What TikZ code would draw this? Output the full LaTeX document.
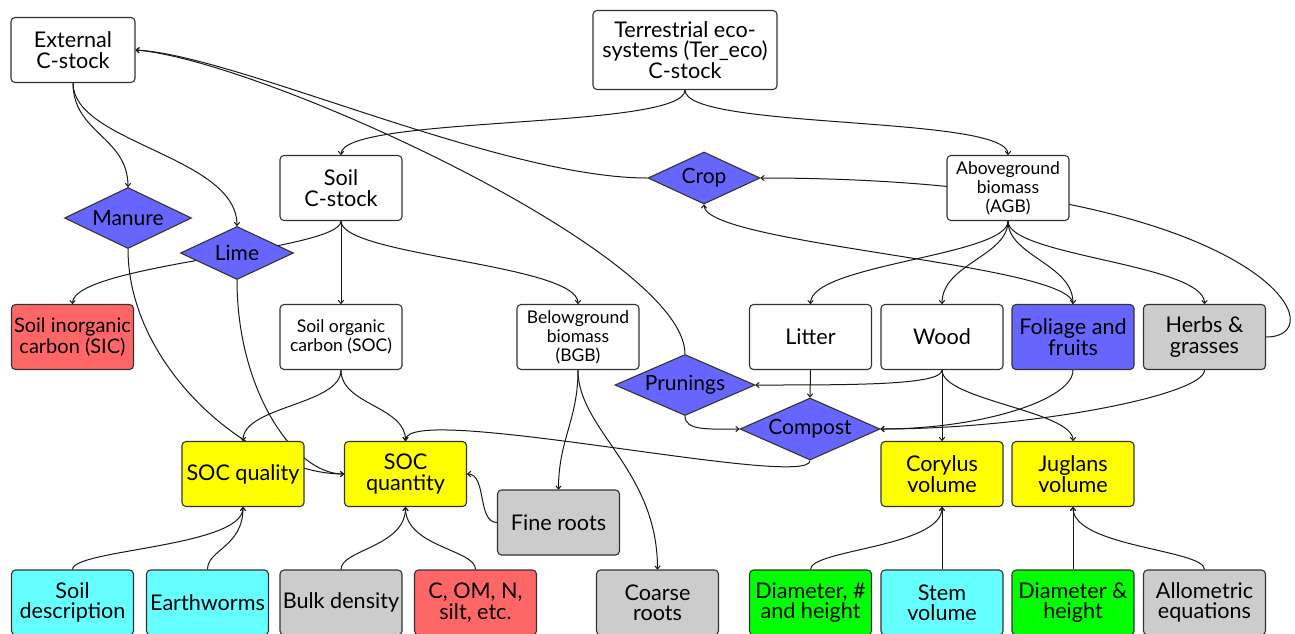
\documentclass[tikz,border=0pt]{standalone}
\usepackage{fontspec}
\setmainfont{Lato}
\usetikzlibrary{shapes.geometric,arrows.meta}
\pgfdeclarelayer{bg}
\pgfsetlayers{bg,main}
\definecolor{dblue}{RGB}{102,102,255}
\definecolor{dred}{RGB}{255,102,102}
\definecolor{dyel}{RGB}{255,255,0}
\definecolor{dgray}{RGB}{204,204,204}
\definecolor{dcyan}{RGB}{102,255,255}
\definecolor{dgreen}{RGB}{0,255,0}
\tikzset{
  box/.style={draw=black!80, line width=1.1pt, rounded corners=4pt, fill=white,
    minimum width=122pt, minimum height=65pt, align=center, inner sep=1pt,
    font=\fontsize{21.6}{20.5}\selectfont},
  sbox/.style={box, font=\fontsize{17.5}{19}\selectfont},
  dia/.style={diamond, draw=black!80, line width=1.1pt, fill=dblue, inner sep=0pt,
    aspect=2.2, font=\fontsize{21}{20}\selectfont},
  edge/.style={draw=black!90, line width=1pt, -{To[length=4pt,width=6pt]}},
}
\begin{document}
\begin{tikzpicture}[x=1pt,y=1pt]
\useasboundingbox (0,0) rectangle (1295,-633);
% row 1
\node[box, minimum width=124pt] (ext) at (73,-50) {External\\C-stock};
\node[box, minimum width=184pt, minimum height=79pt] (ter) at (685,-50) {Terrestrial eco-\\systems (Ter\_eco)\\C-stock};
% row 2
\node[box] (soilc) at (341,-188) {Soil\\C-stock};
\node[sbox] (agb) at (1008,-188) {Aboveground\\biomass\\(AGB)};
\node[dia, minimum width=112pt, minimum height=52pt] (crop) at (704,-178) {Crop};
\node[dia, minimum width=127pt, minimum height=61pt] (manure) at (128,-218) {Manure};
\node[dia, minimum width=113pt, minimum height=53pt] (lime) at (237,-253) {Lime};
% row 3
\node[box, fill=dred, font=\fontsize{20}{20.5}\selectfont] (sic) at (72.5,-337) {Soil inorganic\\carbon (SIC)};
\node[sbox] (soc) at (341,-337) {Soil organic\\carbon (SOC)};
\node[sbox] (bgb) at (578,-337) {Belowground\\biomass\\(BGB)};
\node[box] (litter) at (810.5,-337) {Litter};
\node[box] (wood) at (942,-337) {Wood};
\node[box, fill=dblue] (fol) at (1073,-337) {Foliage and\\fruits};
\node[box, fill=dgray] (herbs) at (1204.5,-337) {Herbs \&\\grasses};
\node[dia, minimum width=140pt, minimum height=61pt] (prun) at (685,-385) {Prunings};
\node[dia, minimum width=140pt, minimum height=62pt] (comp) at (810,-429) {Compost};
% row 4
\node[box, fill=dyel] (socql) at (243,-474) {SOC quality};
\node[box, fill=dyel] (socqn) at (405.5,-474) {SOC\\quantity};
\node[box, fill=dyel] (cory) at (942,-474) {Corylus\\volume};
\node[box, fill=dyel] (jug) at (1073,-474) {Juglans\\volume};
\node[box, fill=dgray] (fine) at (558.5,-522.5) {Fine roots};
% row 5
\node[box, fill=dcyan] (sdesc) at (72.5,-602.5) {Soil\\description};
\node[box, fill=dcyan] (earth) at (207.5,-602.5) {Earthworms};
\node[box, fill=dgray] (bulk) at (341,-602.5) {Bulk density};
\node[box, fill=dred] (comn) at (475.5,-602.5) {C, OM, N,\\silt, etc.};
\node[box, fill=dgray] (coarse) at (657.5,-602.5) {Coarse\\roots};
\node[box, fill=dgreen] (dnh) at (810.5,-602.5) {Diameter, \#\\and height};
\node[box, fill=dcyan] (stem) at (942,-602.5) {Stem\\volume};
\node[box, fill=dgreen] (dh) at (1073,-602.5) {Diameter \&\\height};
\node[box, fill=dgray] (allo) at (1204.5,-602.5) {Allometric\\equations};

\begin{pgfonlayer}{bg}
\fill[white] (0,0) rectangle (1295,-633);
\draw[edge] (ter.south) to[out=-90,in=90,out distance=40,in distance=40] (soilc.north);
\draw[edge] (ter.south) to[out=-90,in=90,out distance=40,in distance=40] (agb.north);
\draw[edge] (herbs.east) .. controls +(75,0) and +(500,0) .. (crop.east);
\draw[edge] (crop.west) .. controls +(-148,0) and +(100,-5) .. (ext.east);
\draw[edge] (prun.north) .. controls +(0,100) and +(125,-10) .. (ext.east);
\draw[edge] (ext.south) to[out=-90,in=90,out distance=50,in distance=50] (manure.north);
\draw[edge] (ext.south) to[out=-90,in=90,out distance=60,in distance=70] (lime.north);
\draw[edge] (manure.south) to[out=-90,in=180,out distance=120,in distance=90] (socqn.west);
\draw[edge] (lime.south) to[out=-90,in=180,out distance=110,in distance=50] (socqn.west);
\draw[edge] (soilc.south) to[out=-90,in=90,out distance=30,in distance=40] (sic.north);
\draw[edge] (soilc.south) -- (soc.north);
\draw[edge] (soilc.south) to[out=-90,in=90,out distance=35,in distance=40] (bgb.north);
\draw[edge] (soc.south) to[out=-90,in=90,out distance=35,in distance=35] (socql.north);
\draw[edge] (soc.south) to[out=-90,in=90,out distance=35,in distance=35] (socqn.north);
\draw[edge] (bgb.south) to[out=-90,in=90,out distance=50,in distance=50] (fine.north);
\draw[edge] (bgb.south) to[out=-90,in=90,out distance=60,in distance=100] (coarse.north);
\draw[edge] (fine.west) to[out=180,in=0,out distance=20,in distance=20] (socqn.east);
\draw[edge] (comp.south) .. controls +(0,-30) and +(0,40) .. (socqn.north);
\draw[edge] (litter.south) -- (comp.north);
\draw[edge] (wood.south) to[out=-90,in=0,out distance=15,in distance=100] (prun.east);
\draw[edge] (prun.south) to[out=-90,in=180,out distance=15,in distance=30] (comp.west);
\draw[edge] (fol.south) to[out=-90,in=0,out distance=30,in distance=100] (comp.east);
\draw[edge] (herbs.south) to[out=-90,in=0,out distance=25,in distance=150] (comp.east);
\draw[edge] (wood.south) -- (cory.north);
\draw[edge] (wood.south) to[out=-90,in=90,out distance=30,in distance=30] (jug.north);
\draw[edge] (agb.south) to[out=-90,in=90,out distance=35,in distance=40] (litter.north);
\draw[edge] (agb.south) to[out=-90,in=90,out distance=35,in distance=40] (wood.north);
\draw[edge] (agb.south) to[out=-90,in=90,out distance=35,in distance=40] (fol.north);
\draw[edge] (agb.south) to[out=-90,in=90,out distance=35,in distance=40] (herbs.north);
\draw[edge] (fol.north) to[out=90,in=-90,out distance=40,in distance=40] (crop.south);
\draw[edge] (sdesc.north) to[out=90,in=-90,out distance=20,in distance=40] (socql.south);
\draw[edge] (earth.north) to[out=90,in=-90,out distance=20,in distance=40] (socql.south);
\draw[edge] (bulk.north) to[out=90,in=-90,out distance=20,in distance=40] (socqn.south);
\draw[edge] (comn.north) to[out=90,in=-90,out distance=20,in distance=40] (socqn.south);
\draw[edge] (dnh.north) to[out=90,in=-90,out distance=20,in distance=40] (cory.south);
\draw[edge] (stem.north) -- (cory.south);
\draw[edge] (dh.north) -- (jug.south);
\draw[edge] (allo.north) to[out=90,in=-90,out distance=20,in distance=40] (jug.south);
\end{pgfonlayer}
\end{tikzpicture}
\end{document}
